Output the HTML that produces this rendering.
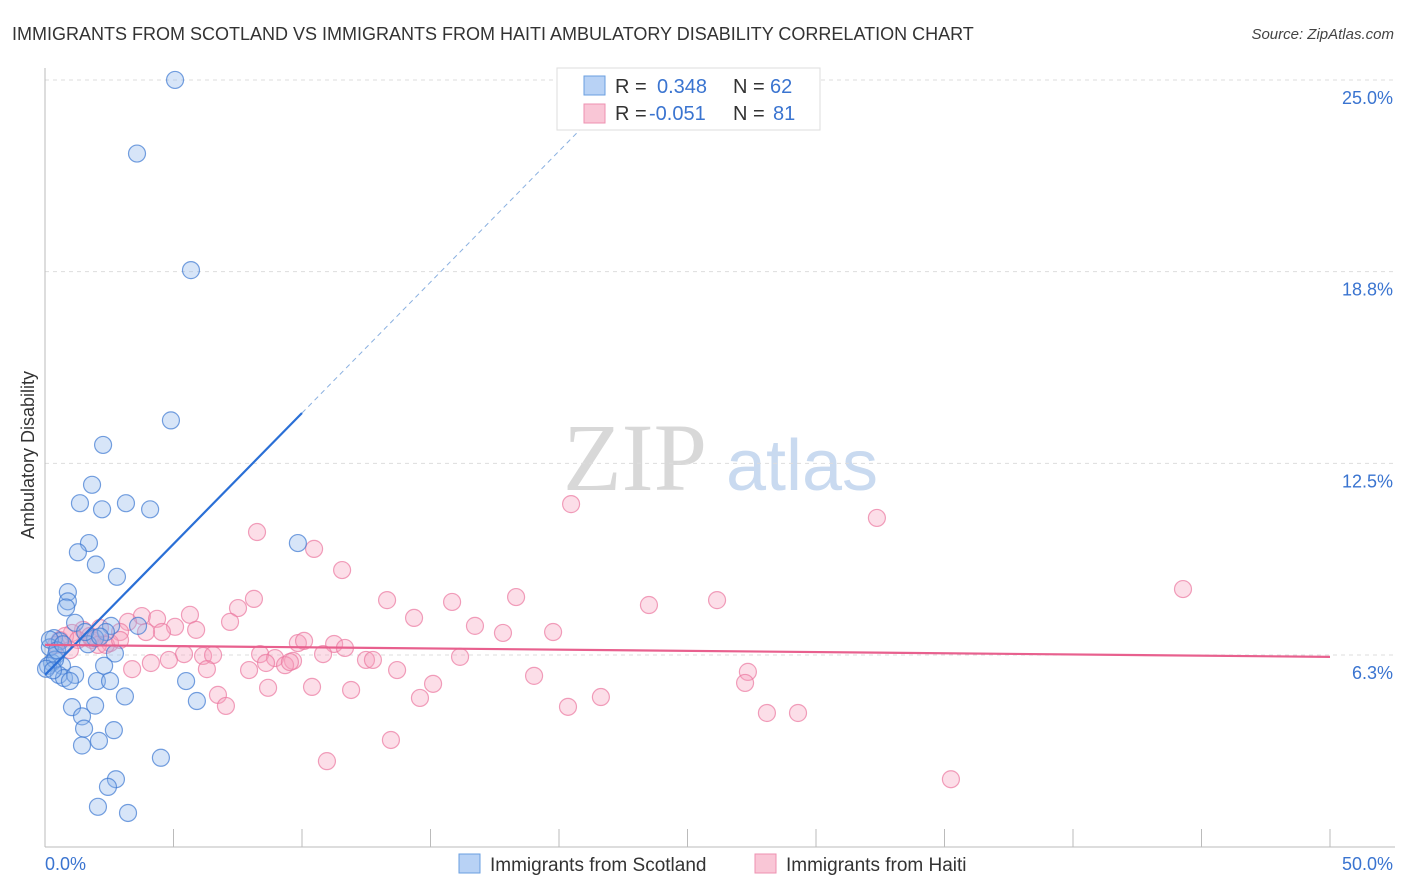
<!DOCTYPE html>
<html><head><meta charset="utf-8"><style>
body{margin:0;background:#fff;font-family:"Liberation Sans",sans-serif;}
</style></head><body>
<svg id="chart" width="1406" height="892" xmlns="http://www.w3.org/2000/svg" style="display:block">
<text x="12" y="40" font-size="18" fill="#333">IMMIGRANTS FROM SCOTLAND VS IMMIGRANTS FROM HAITI AMBULATORY DISABILITY CORRELATION CHART</text>
<text x="1394" y="39" font-size="15" fill="#444" text-anchor="end" font-style="italic">Source: ZipAtlas.com</text>
<text transform="translate(34,455) rotate(-90)" font-size="18" fill="#333" text-anchor="middle">Ambulatory Disability</text>
<g>
<text x="635" y="490" font-size="96" fill="#d8d8d8" text-anchor="middle" font-family="Liberation Serif,serif">ZIP</text>
<text x="802" y="490" font-size="72" fill="#c9daf0" text-anchor="middle">atlas</text>
</g>
<g id="grid"></g><g id="axes"></g><g id="pink"></g><g id="blue"></g><g id="trends"></g>
<g>
<rect x="557" y="68" width="263" height="62" fill="#fff" stroke="#ddd"/>
<rect x="584" y="76" width="21" height="19" fill="#b8d2f5" stroke="#6a9fe0"/>
<rect x="584" y="104" width="21" height="19" fill="#f9c6d6" stroke="#ee90b0"/>
<text x="615" y="93" font-size="20" fill="#333">R = </text><text x="657" y="93" font-size="20" fill="#3a74d0">0.348</text>
<text x="733" y="93" font-size="20" fill="#333">N = </text><text x="770" y="93" font-size="20" fill="#3a74d0">62</text>
<text x="615" y="120" font-size="20" fill="#333">R = </text><text x="649" y="120" font-size="20" fill="#3a74d0">-0.051</text>
<text x="733" y="120" font-size="20" fill="#333">N = </text><text x="773" y="120" font-size="20" fill="#3a74d0">81</text>
</g>
<g>
<rect x="459" y="854" width="21" height="19" fill="#b8d2f5" stroke="#6a9fe0"/>
<text x="490" y="871" font-size="19" fill="#333">Immigrants from Scotland</text>
<rect x="755" y="854" width="21" height="19" fill="#f9c6d6" stroke="#ee90b0"/>
<text x="786" y="871" font-size="19" fill="#333">Immigrants from Haiti</text>
</g>
</svg>
<script>
const yTicks=[25,18.75,12.5,6.25];
const yTickLabels=["25.0%","18.8%","12.5%","6.3%"];
const xTickVals=[0,5,10,15,20,25,30,35,40,45,50];
const blueX=[5.06,3.58,5.68,4.90,2.26,1.83,1.36,3.15,2.22,4.09,1.71,1.28,9.84,1.98,2.80,0.89,0.89,0.82,1.17,2.57,3.62,2.37,1.95,0.35,0.58,1.67,2.72,0.43,0.27,0.66,2.30,0.54,0.74,1.17,0.97,2.02,2.53,5.49,3.11,5.91,1.05,1.95,1.44,1.52,2.68,1.44,2.10,4.51,2.76,2.45,2.06,3.23,0.19,0.12,0.39,0.04,0.19,0.47,0.70,0.31,1.56,2.14];
const blueY=[25.0,22.6,18.8,13.9,13.1,11.8,11.2,11.2,11.0,11.0,9.9,9.6,9.9,9.2,8.8,8.3,8.0,7.8,7.3,7.2,7.2,7.0,6.8,6.8,6.7,6.6,6.3,6.25,6.0,5.9,5.9,5.6,5.5,5.6,5.4,5.4,5.4,5.4,4.9,4.75,4.55,4.6,4.25,3.85,3.8,3.3,3.45,2.9,2.2,1.95,1.3,1.1,6.5,5.9,6.1,5.8,6.75,6.4,6.6,5.75,7.0,6.85];
const pinkX=[20.47,32.37,8.25,10.47,11.56,44.28,13.31,15.84,18.33,23.50,26.15,8.13,7.51,5.64,3.77,4.36,3.23,7.20,14.36,16.73,17.82,19.77,5.06,5.88,4.55,3.93,2.92,2.14,1.48,1.05,1.83,2.53,9.84,10.08,11.25,11.67,8.37,8.95,10.82,5.41,6.15,6.54,12.49,12.76,16.15,4.12,4.82,9.65,8.60,3.39,6.30,7.94,9.34,9.53,13.70,27.35,19.03,15.10,27.24,8.68,10.39,11.91,6.73,14.59,21.63,7.04,20.35,28.09,29.30,13.46,10.97,35.25,0.58,0.78,1.28,1.75,2.06,2.37,2.92,0.43,0.97];
const pinkY=[11.17,10.72,10.26,9.71,9.02,8.40,8.04,7.98,8.14,7.88,8.04,8.08,7.78,7.56,7.52,7.43,7.33,7.33,7.46,7.20,6.97,7.00,7.17,7.07,7.00,7.00,7.00,7.13,7.07,6.97,6.74,6.64,6.64,6.71,6.61,6.48,6.28,6.15,6.28,6.28,6.22,6.25,6.09,6.09,6.19,5.99,6.09,6.06,5.99,5.79,5.79,5.76,5.92,6.02,5.76,5.70,5.57,5.31,5.34,5.18,5.21,5.11,4.95,4.85,4.88,4.59,4.56,4.36,4.36,3.48,2.79,2.20,6.74,6.87,6.74,6.87,6.58,6.58,6.74,6.58,6.41];
const blueTrend=[5.6,0.854];   // intercept, slope
const pinkTrend=[6.58,-0.0078];
const NS="http://www.w3.org/2000/svg";
const X=v=>45+v*25.7, Y=v=>846.7-v*30.67;
function mk(parent,tag,attrs){const e=document.createElementNS(NS,tag);for(const k in attrs)e.setAttribute(k,attrs[k]);document.getElementById(parent).appendChild(e);return e;}
yTicks.forEach((t,i)=>{
  const l=mk('grid','line',{x1:45,x2:1395,y1:Y(t),y2:Y(t),stroke:'#ddd','stroke-dasharray':'4,4'});
  
  
  const tx=mk('grid','text',{x:1393,y:Y(t)+24,'font-size':18,fill:'#3a74d0','text-anchor':'end'});
  tx.textContent=yTickLabels[i];
  
  
});
const ya=mk('axes','line',{x1:45,x2:45,y1:68,y2:847,stroke:'#bbb'});


const xa=mk('axes','line',{x1:45,x2:1395,y1:847,y2:847,stroke:'#bbb'});


xTickVals.forEach(v=>{
  const t=mk('axes','line',{x1:X(v),x2:X(v),y1:829,y2:847,stroke:'#bbb'});
  
  
});
const xl0=mk('axes','text',{x:45,y:870,'font-size':18,fill:'#3a74d0'});xl0.textContent='0.0%';


const xl1=mk('axes','text',{x:1393,y:870,'font-size':18,fill:'#3a74d0','text-anchor':'end'});xl1.textContent='50.0%';


pinkX.forEach((v,i)=>{
  const c=mk('pink','circle',{cx:X(v),cy:Y(pinkY[i]),r:8.5,fill:'rgba(245,160,190,0.35)',stroke:'rgba(235,120,160,0.7)','stroke-width':1.2});
  
  
});
blueX.forEach((v,i)=>{
  const c=mk('blue','circle',{cx:X(v),cy:Y(blueY[i]),r:8.5,fill:'rgba(140,180,235,0.35)',stroke:'rgba(60,120,210,0.7)','stroke-width':1.2});
  
  
});
const b1=mk('trends','line',{x1:X(0),y1:Y(blueTrend[0]),x2:X(10),y2:Y(blueTrend[0]+blueTrend[1]*10),stroke:'#2a6fd6','stroke-width':2.2});


const b2=mk('trends','line',{x1:X(10),y1:Y(blueTrend[0]+blueTrend[1]*10),x2:X(21.4),y2:Y(blueTrend[0]+blueTrend[1]*21.4),stroke:'#8ab0e0','stroke-width':1,'stroke-dasharray':'5,4'});


const p1=mk('trends','line',{x1:X(0),y1:Y(pinkTrend[0]),x2:X(50),y2:Y(pinkTrend[0]+pinkTrend[1]*50),stroke:'#e8608e','stroke-width':2.2});


</script>
</body></html>
